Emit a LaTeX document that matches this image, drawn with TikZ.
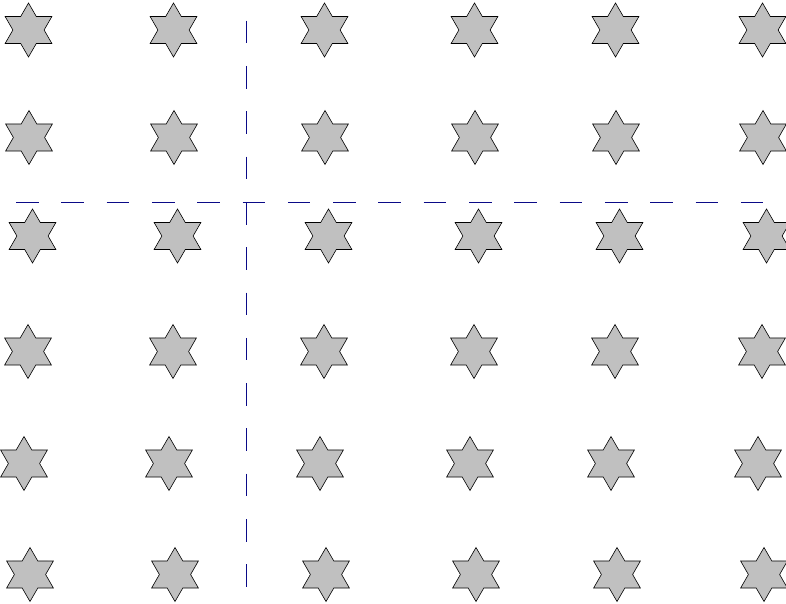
\documentclass[tikz,border=0pt]{standalone}
\usetikzlibrary{shapes.geometric}
\definecolor{guideblue}{RGB}{10,10,135}
\definecolor{starfill}{RGB}{192,192,192}
\tikzset{
    hexstar/.style={star, star points=6, star point ratio=1.73, minimum size=54pt,
        inner sep=0pt, draw=black, fill=starfill, line width=0.6pt},
    guide/.style={guideblue, line width=1pt, dash pattern=on 22.6pt off 22.7pt}
}
\begin{document}
\begin{tikzpicture}[x=1pt, y=-1pt]
    \useasboundingbox (0,0) rectangle (786,604);

    % Stars (one row per line, each row slightly shifted)
    \foreach \row/\ypos/\xoff in {1/30/28.5, 2/137.5/29, 3/236/32.5, 4/351.5/28, 5/463.5/24, 6/574.5/30}
        \foreach \col/\dx in {1/0, 2/145, 3/296, 4/446, 5/587, 6/734}
            \node[hexstar] (star-\row-\col) at (\xoff+\dx, \ypos) {};

    % Guide lines
    \coordinate (vtop) at (246,20.7);
    \coordinate (vbot) at (246,588);
    \coordinate (hleft) at (16,202);
    \coordinate (hright) at (765,202);
    \draw[guide] (vtop) -- (vbot);
    \draw[guide] (hleft) -- (hright);
\end{tikzpicture}
\end{document}
